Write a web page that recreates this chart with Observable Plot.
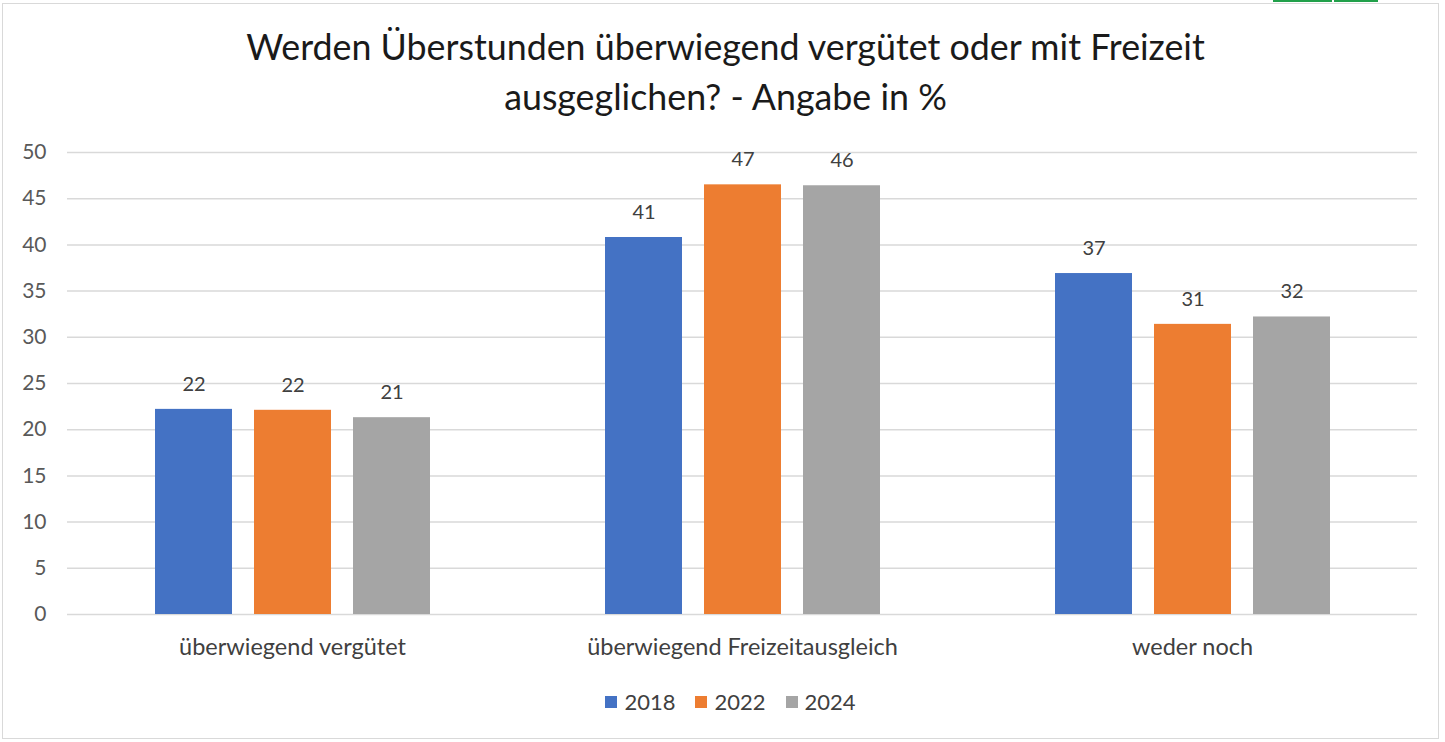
<!DOCTYPE html>
<html>
<head>
<meta charset="utf-8">
<script src="https://cdn.jsdelivr.net/npm/d3@7"></script>
<script src="https://cdn.jsdelivr.net/npm/@observablehq/plot@0.6"></script>
<style>
  html, body { margin: 0; padding: 0; background: #fff; }
  body { width: 1445px; height: 742px; position: relative; overflow: hidden; font-family: Lato, "Open Sans", sans-serif; }
  #frame { position: absolute; left: 2px; top: 3px; width: 1437px; height: 736px; border: 1.5px solid #d9d9d9; box-sizing: border-box; }
  #title { position: absolute; left: 3px; width: 1445px; top: 22px; text-align: center; font-size: 35.8px; line-height: 50px; color: #1a1a1a; }
  #chart { position: absolute; left: 0; top: 120px; }
  #legend { position: absolute; left: 8px; width: 1445px; top: 688px; display: flex; justify-content: center; gap: 20px; font-size: 22px; color: #404040; }
  #legend span.item { display: flex; align-items: center; gap: 7px; }
  #legend span.sw { width: 12px; height: 12px; display: inline-block; }
  .green { position: absolute; top: 0; height: 2px; background: #21a04a; }
</style>
</head>
<body>
<div id="frame"></div>
<div class="green" style="left:1273px;width:59px"></div>
<div class="green" style="left:1334px;width:44px"></div>
<div id="title">Werden Überstunden überwiegend vergütet oder mit Freizeit<br>ausgeglichen? - Angabe in %</div>
<div id="chart"></div>
<div id="legend"></div>
<script>
const groups = ["überwiegend vergütet", "überwiegend Freizeitausgleich", "weder noch"];
const years = ["2018", "2022", "2024"];
const v2018 = [22.2, 40.8, 36.9];
const v2022 = [22.1, 46.5, 31.4];
const v2024 = [21.3, 46.4, 32.2];
const colors = ["#4472C4", "#ED7D31", "#A5A5A5"];
const yTicks = [0, 5, 10, 15, 20, 25, 30, 35, 40, 45, 50];

const series = {"2018": v2018, "2022": v2022, "2024": v2024};
const data = [];
groups.forEach((g, i) => years.forEach(y => data.push({group: g, year: y, value: series[y][i]})));

const chart = Plot.plot({
  width: 1445,
  height: 544,
  marginTop: 32,
  marginBottom: 50,
  marginLeft: 67,
  marginRight: 28,
  style: {fontFamily: "Lato, 'Open Sans', sans-serif", background: "transparent"},
  fx: {domain: groups, padding: 0, label: null, axis: null},
  x: {domain: years, paddingInner: 0.226, paddingOuter: 0.874, axis: null},
  y: {domain: [0, 50], label: null, axis: null},
  color: {domain: years, range: colors},
  marks: [
    Plot.gridY(yTicks, {stroke: "#d9d9d9", strokeOpacity: 1, strokeWidth: 1.5}),
    Plot.axisY(yTicks, {tickSize: 0, tickPadding: 21, fontSize: 21, fill: "#595959", label: null}),
    Plot.axisFx({anchor: "bottom", tickSize: 0, tickPadding: 24, fontSize: 23.5, fill: "#404040", label: null}),
    Plot.barY(data, {fx: "group", x: "year", y: "value", fill: "year"}),
    Plot.text(data, {fx: "group", x: "year", y: "value", text: d => String(Math.round(d.value)), dy: -25, fontSize: 20, fill: "#404040"})
  ]
});
document.getElementById("chart").appendChild(chart);

const legend = document.getElementById("legend");
years.forEach((y, i) => {
  const item = document.createElement("span");
  item.className = "item";
  const sw = document.createElement("span");
  sw.className = "sw";
  sw.style.background = colors[i];
  item.appendChild(sw);
  item.appendChild(document.createTextNode(y));
  legend.appendChild(item);
});
</script>
</body>
</html>
